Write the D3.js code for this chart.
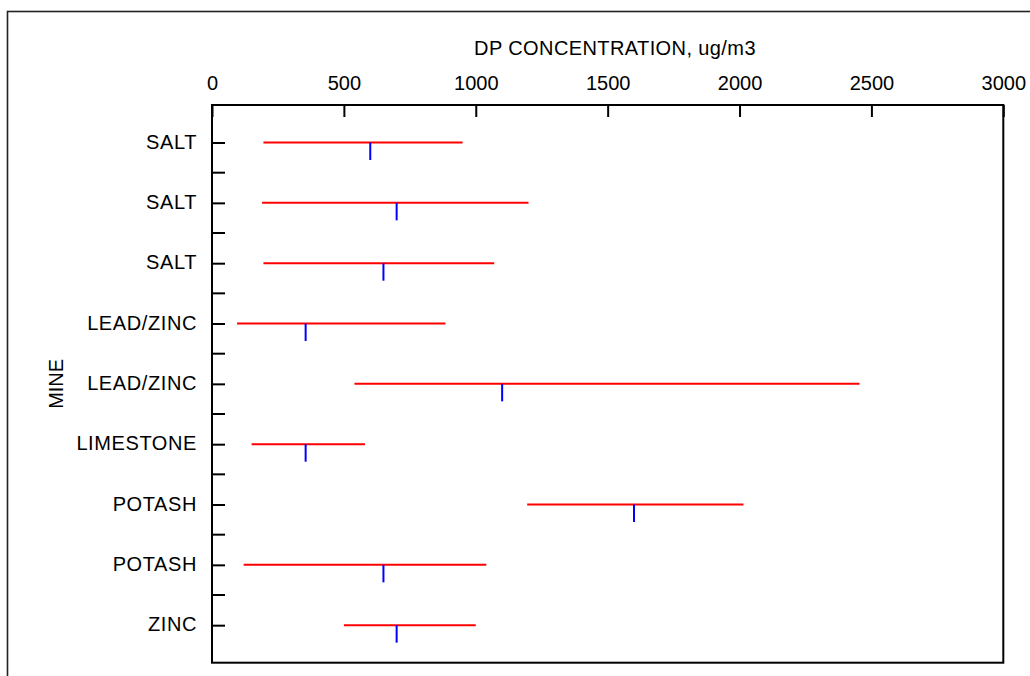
<!DOCTYPE html>
<html>
<head>
<meta charset="utf-8">
<script src="https://cdn.jsdelivr.net/npm/d3@7"></script>
<style>
  html, body { margin: 0; padding: 0; background: #fff; }
  svg { display: block; }
  text { font-family: "Liberation Sans", Arial, sans-serif; fill: #000; }
</style>
</head>
<body>
<svg id="chart" width="1030" height="676"></svg>
<script>
const mines = ["SALT", "SALT", "SALT", "LEAD/ZINC", "LEAD/ZINC", "LIMESTONE", "POTASH", "POTASH", "ZINC"];
const lows  = [195, 190, 195, 95, 540, 150, 1195, 120, 500];
const highs = [950, 1200, 1070, 885, 2455, 580, 2015, 1040, 1000];
const means = [600, 700, 650, 355, 1100, 355, 1600, 650, 700];
const xTicks = [0, 500, 1000, 1500, 2000, 2500, 3000];
const xTitle = "DP CONCENTRATION, ug/m3";
const yTitle = "MINE";

const svg = d3.select("#chart");
const L = 212, R = 1003.3, T = 105, B = 662.7;

// outer border (extends beyond the viewport on right/bottom)
svg.append("rect")
  .attr("x", 7.5).attr("y", 11.5).attr("width", 1060).attr("height", 700)
  .attr("fill", "none").attr("stroke", "#222").attr("stroke-width", 1.6);

const x = d3.scaleLinear().domain([0, 3000]).range([L, R]);
const keys = mines.map((d, i) => i);
const y = d3.scalePoint().domain(keys).range([T, B]).padding(0.622);
const step = y.step();

// x axis on top, ticks pointing inward
const xAxis = d3.axisTop(x).tickValues(xTicks).tickFormat(d3.format("d"))
  .tickSizeInner(-12).tickSizeOuter(0).tickPadding(15);
const gx = svg.append("g").attr("transform", `translate(0,${T})`).call(xAxis);
gx.select(".domain").remove();
gx.selectAll(".tick line").attr("stroke", "#000").attr("stroke-width", 2);
gx.selectAll(".tick text").style("font-size", "20px").style("font-family", "Liberation Sans, Arial, sans-serif").attr("fill", "#000");

// y axis on left, ticks pointing inward
const yAxis = d3.axisLeft(y).tickFormat(i => mines[i])
  .tickSizeInner(-13).tickSizeOuter(0).tickPadding(15);
const gy = svg.append("g").attr("transform", `translate(${L},0)`).call(yAxis);
gy.select(".domain").remove();
gy.selectAll(".tick line").attr("stroke", "#000").attr("stroke-width", 2);
gy.selectAll(".tick text").style("font-size", "20px").style("font-family", "Liberation Sans, Arial, sans-serif")
  .style("letter-spacing", "0.6px")
  .attr("fill", "#000").attr("dy", "0.28em");

// minor ticks between categories
svg.append("g").selectAll("line").data(keys.slice(0, -1)).join("line")
  .attr("x1", L).attr("x2", L + 13)
  .attr("y1", i => y(i) + step / 2).attr("y2", i => y(i) + step / 2)
  .attr("stroke", "#000").attr("stroke-width", 2);

// frame
svg.append("rect")
  .attr("x", L).attr("y", T).attr("width", R - L).attr("height", B - T)
  .attr("fill", "none").attr("stroke", "#000").attr("stroke-width", 2);

// range lines
svg.append("g").selectAll("line").data(keys).join("line")
  .attr("x1", i => x(lows[i])).attr("x2", i => x(highs[i]))
  .attr("y1", i => y(i)).attr("y2", i => y(i))
  .attr("stroke", "#ff0000").attr("stroke-width", 2);

// mean markers
svg.append("g").selectAll("line").data(keys).join("line")
  .attr("x1", i => x(means[i])).attr("x2", i => x(means[i]))
  .attr("y1", i => y(i)).attr("y2", i => y(i) + 17.5)
  .attr("stroke", "#0000ff").attr("stroke-width", 2);

// titles
svg.append("text").attr("x", 615).attr("y", 55).attr("text-anchor", "middle")
  .style("font-size", "20px").style("letter-spacing", "0.4px").text(xTitle);
svg.append("text").attr("transform", `translate(63,${(T + B) / 2}) rotate(-90)`)
  .attr("text-anchor", "middle").style("font-size", "20px").text(yTitle);
</script>
</body>
</html>
